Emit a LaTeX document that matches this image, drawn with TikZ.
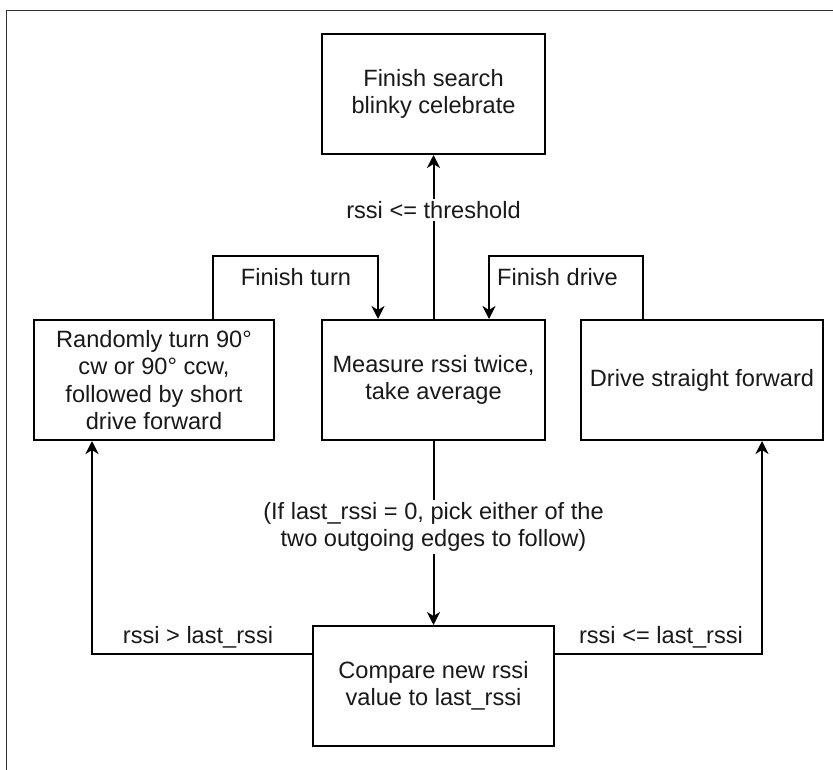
\documentclass[tikz,border=0pt]{standalone}
\usepackage{fontspec}
\setmainfont{Liberation Sans}
\usetikzlibrary{arrows.meta,calc}
\tikzset{
  box/.style={draw=black, line width=2pt, rectangle, minimum height=120pt, align=center, inner sep=0pt, text=black!90},
  conn/.style={draw=black, line width=2pt},
  arr/.style={conn, -{Stealth[length=13pt,width=13pt,inset=4pt]}},
  lbl/.style={align=center, text=black!90, inner sep=2pt},
  lblw/.style={lbl, fill=white},
  every node/.style={font=\fontsize{23.6}{27.5}\selectfont}
}
\begin{document}
\begin{tikzpicture}[x=1pt,y=-1pt]
\useasboundingbox (0,0) rectangle (833,770);
\draw[line width=1.6pt, draw=black!80] (6.5,770) -- (6.5,10.7) -- (833,10.7);

\node[box, minimum width=223pt] (finish) at (433.5,94) {Finish search\\blinky celebrate};
\node[box, minimum width=223pt] (measure) at (433.5,380) {Measure rssi twice,\\take average};
\node[box, minimum width=240pt] (turn) at (154,380) {Randomly turn 90°\\cw or 90° ccw,\\followed by short\\drive forward};
\node[box, minimum width=242pt] (drive) at (702,380) {Drive straight forward};
\node[box, minimum width=241pt] (compare) at (433.5,686) {Compare new rssi\\value to last\_rssi};

% measure -> finish
\draw[arr] (measure.north) -- (finish.south);
\node[lblw] (thr) at (433.5,210) {rssi <= threshold};

% finish turn loop
\coordinate (ta) at (213,256);
\coordinate (tb) at (378,256);
\draw[arr] (turn.north -| ta) -- (ta) -- (tb) -- (measure.north -| tb);
\node[lbl] (ftl) at (296,277) {Finish turn};

% finish drive loop
\coordinate (da) at (643,256);
\coordinate (db) at (489,256);
\draw[arr] (drive.north -| da) -- (da) -- (db) -- (measure.north -| db);
\node[lbl] (fdl) at (557.5,277) {Finish drive};

% measure -> compare
\draw[arr] (measure.south) -- (compare.north);
\node[lblw] (ifl) at (433.5,527) {(If last\_rssi = 0, pick either of the\\two outgoing edges to follow)};

% compare -> turn
\coordinate (cl) at (92,654);
\draw[arr] (compare.west |- cl) -- (cl) -- (turn.south -| cl);
\node[lbl] (gtl) at (198,637) {rssi > last\_rssi};

% compare -> drive
\coordinate (cr) at (762,654);
\draw[arr] (compare.east |- cr) -- (cr) -- (drive.south -| cr);
\node[lbl] (lel) at (661,637) {rssi <= last\_rssi};
\end{tikzpicture}
\end{document}
